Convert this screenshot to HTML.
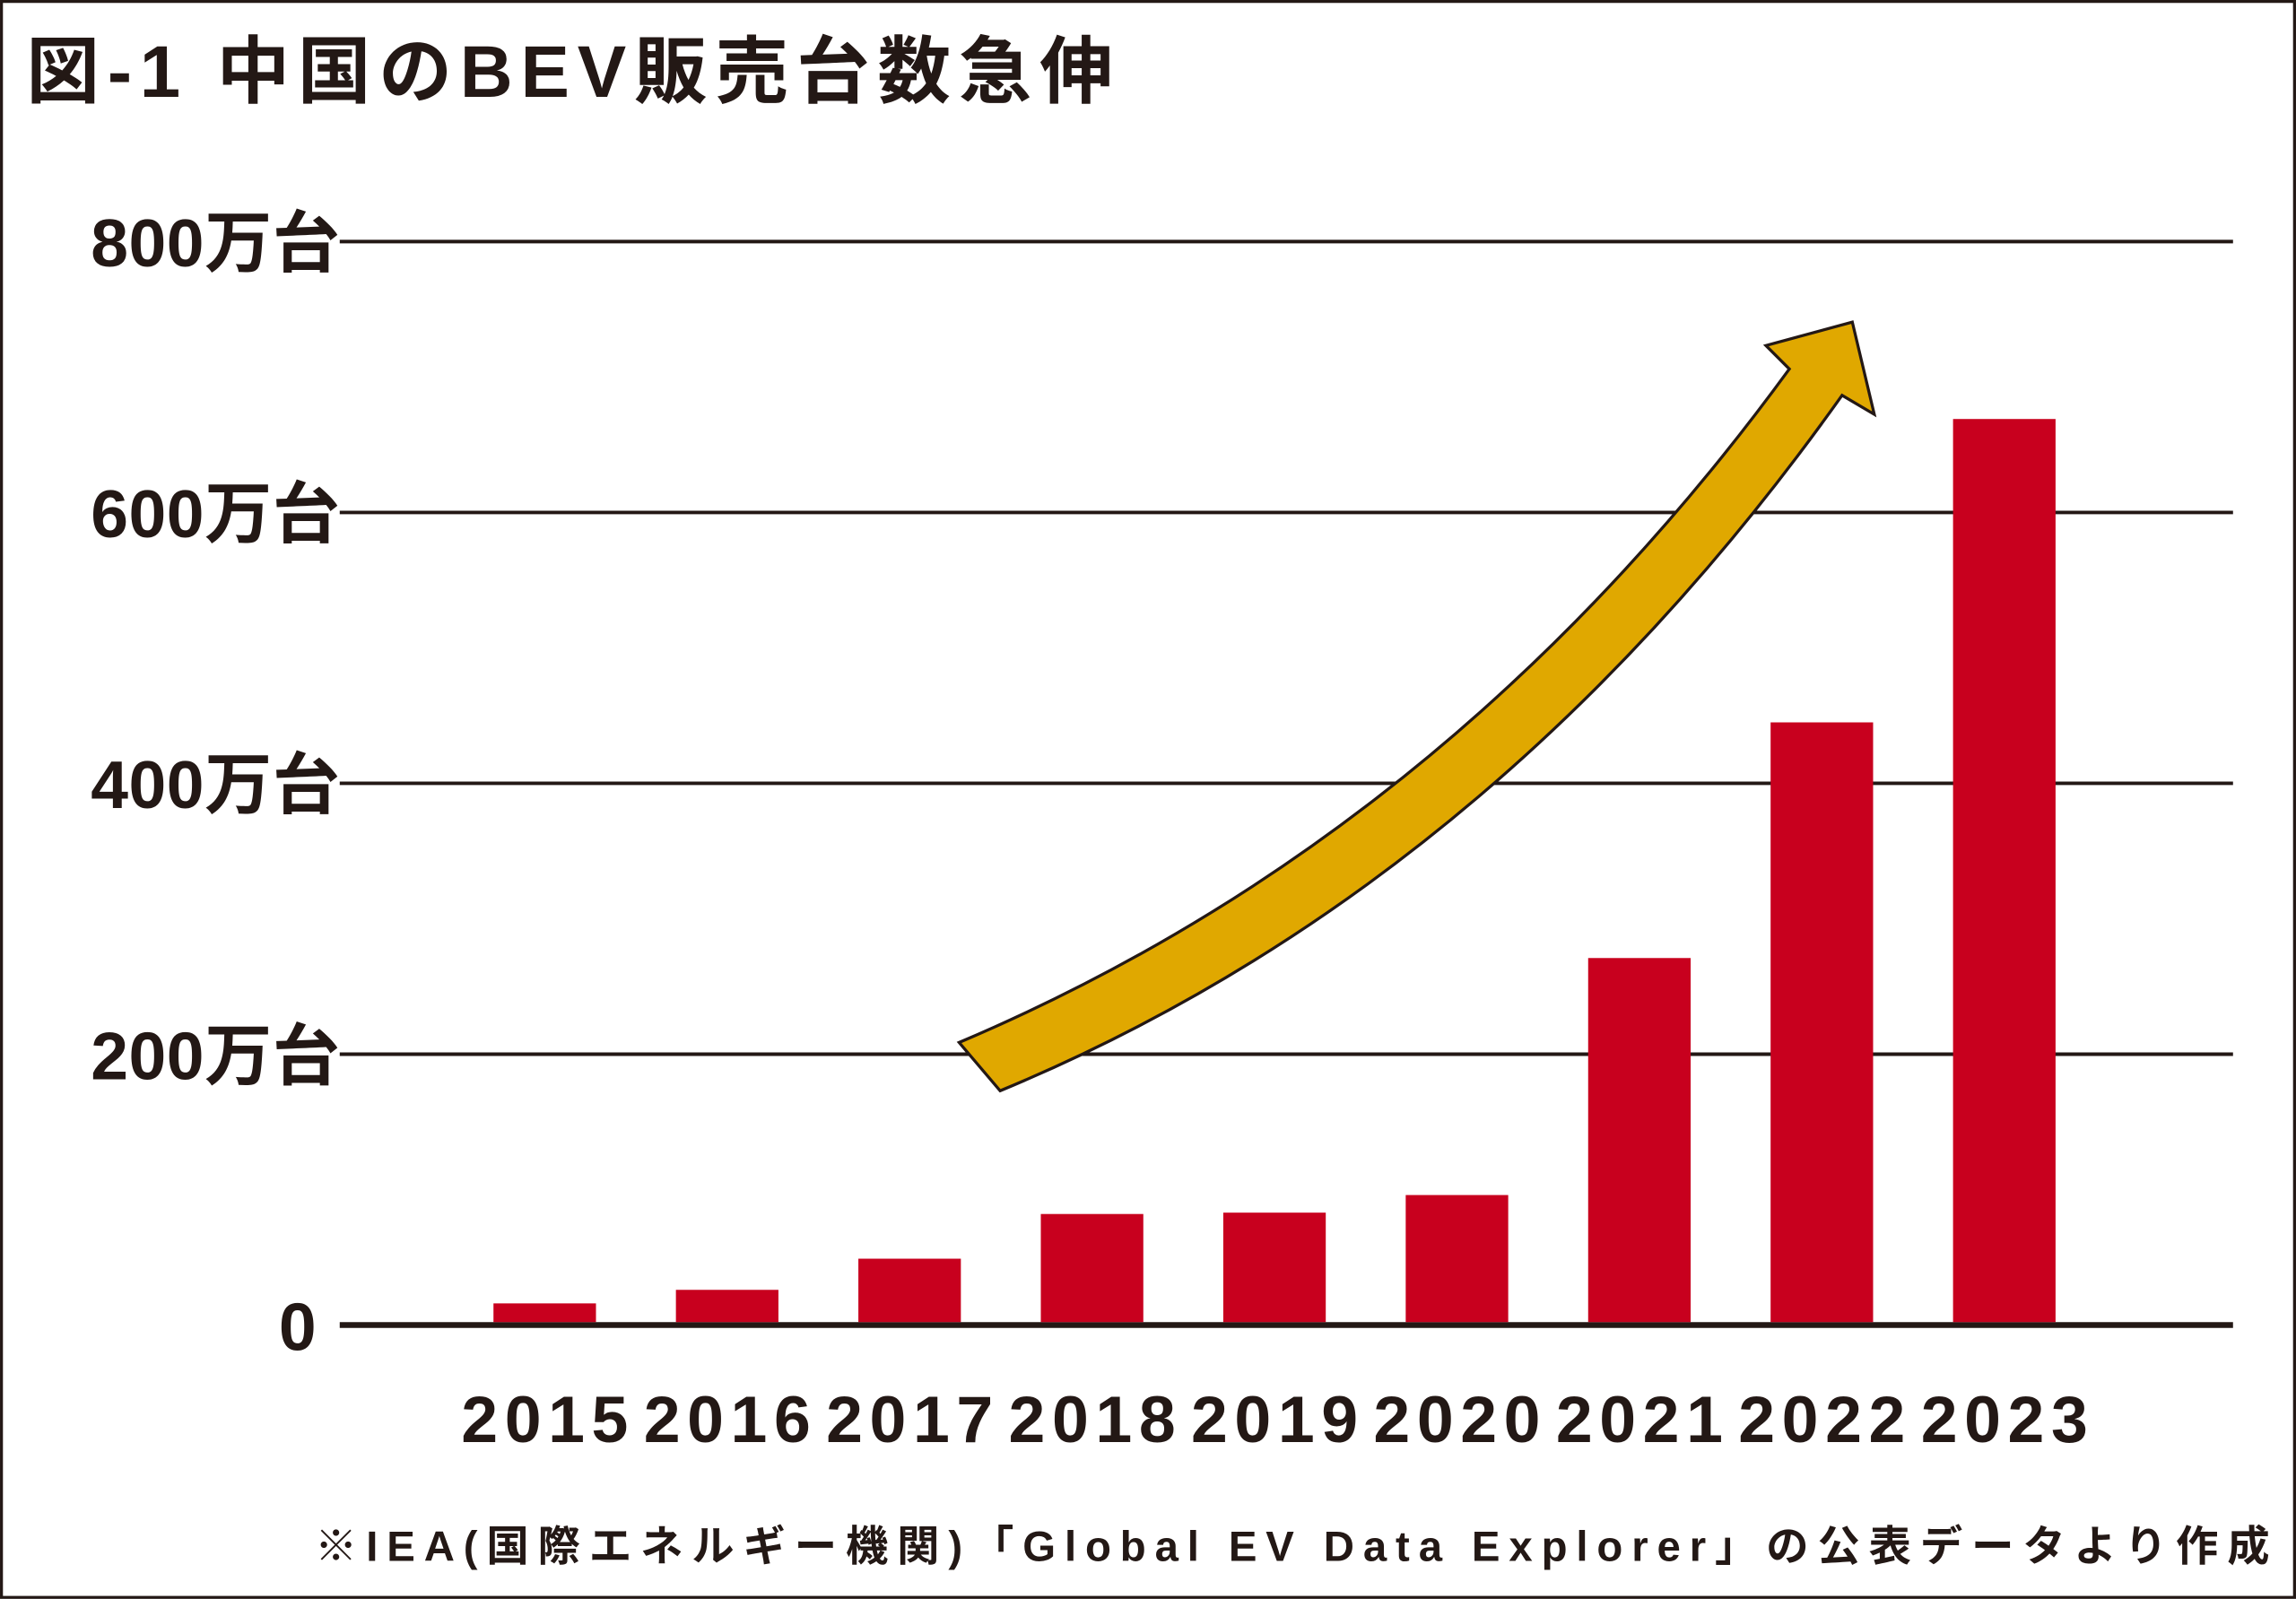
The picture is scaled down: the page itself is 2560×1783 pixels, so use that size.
<!DOCTYPE html>
<html><head><meta charset="utf-8"><style>
html,body{margin:0;padding:0;background:#fff;width:2560px;height:1783px;overflow:hidden}
svg{display:block}
text{font-family:"Liberation Sans","Noto Sans CJK JP",sans-serif;fill:#231815}
</style></head><body>
<svg id="chart" width="2560" height="1783" viewBox="0 0 1568 1092.1" xmlns="http://www.w3.org/2000/svg">
<rect x="1" y="1" width="1566" height="1090" fill="#fff" stroke="#231815" stroke-width="2"/>
<text x="18" y="66" font-size="50" font-weight="bold" textLength="742">図-1 中国のBEV販売台数急伸</text>
<g id="grid"></g>
<g id="ylabels"></g>
<g id="bars"></g>
<g id="xlabels"></g>
<path fill="#e0a800" stroke="#231815" stroke-width="2" stroke-linejoin="miter"
 d="M655,712 Q990,570 1222,252 L1206,236 L1265,220 L1280,283 L1258,270 Q1020,605 683,745 Z"/>
<text x="1550" y="1066" font-size="29" font-weight="bold" text-anchor="end" textLength="1335">※IEA(国際エネルギー機関)「Global EV Data Explorer」の公表データより作成</text>
</svg>
<script>
const categories=["2015","2016","2017","2018","2019","2020","2021","2022","2023"];
const salesValues=[16,26,49,82,83,96,271,445,669];
const yTicks=[0,200,400,600,800];
const yTickLabels=["0","200万台","400万台","600万台","800万台"];
const NS="http://www.w3.org/2000/svg";
const X0=310,STEP=124.6,BW=70;
function yScale(v){return 905-v*(740/800);}
function xCenter(i){return X0+STEP*i+62;}
const grid=document.getElementById('grid'),yl=document.getElementById('ylabels'),bars=document.getElementById('bars'),xl=document.getElementById('xlabels');
yTicks.forEach((t,i)=>{
 const l=document.createElementNS(NS,'line');
 
 
 const y=yScale(t);
 l.setAttribute('x1',232);l.setAttribute('x2',1525);l.setAttribute('y1',y);l.setAttribute('y2',y);
 l.setAttribute('stroke','#231815');l.setAttribute('stroke-width',t===0?4:2.4);
 grid.appendChild(l);
 const tx=document.createElementNS(NS,'text');
 
 
 tx.setAttribute('x',t===0?216:232);tx.setAttribute('y',y+17);
 tx.setAttribute('text-anchor','end');tx.setAttribute('font-size','46');tx.setAttribute('font-weight','bold');
 if(t!==0){tx.setAttribute('textLength','170');}
 tx.textContent=yTickLabels[i];
 yl.appendChild(tx);
});
categories.forEach((c,i)=>{
 const cx=xCenter(i),top=yScale(salesValues[i]);
 const r=document.createElementNS(NS,'rect');
 
 
 r.setAttribute('x',cx-BW/2);r.setAttribute('y',top);r.setAttribute('width',BW);r.setAttribute('height',903-top);
 r.setAttribute('fill','#c8001e');
 bars.appendChild(r);
 const tx=document.createElementNS(NS,'text');
 
 
 tx.setAttribute('x',cx);tx.setAttribute('y',985);tx.setAttribute('text-anchor','middle');
 tx.setAttribute('font-size','45');tx.setAttribute('font-weight','bold');tx.setAttribute('textLength','114');
 tx.textContent=c;
 xl.appendChild(tx);
});
</script>
</body></html>
